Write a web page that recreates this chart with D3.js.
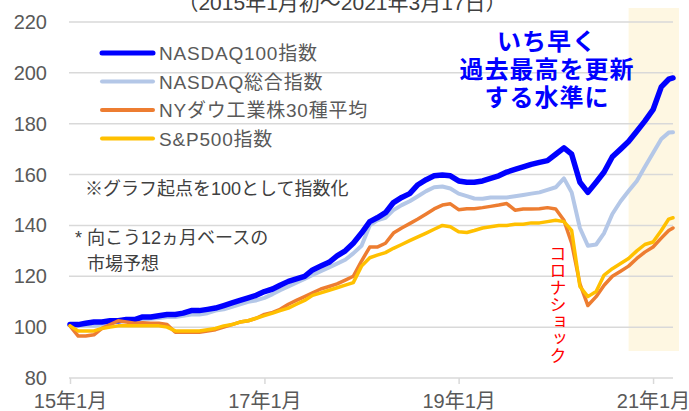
<!DOCTYPE html>
<html>
<head>
<meta charset="utf-8">
<script src="https://cdn.jsdelivr.net/npm/d3@7"></script>
<style>
  body { margin: 0; background: #fff; }
  svg text { font-family: "Liberation Sans", "Noto Sans CJK JP", sans-serif; }
</style>
</head>
<body>
<div id="chart"></div>
<script>
// chart area
var svgWidth = 689;
var svgHeight = 411;

// monthly points, first day of each month from 2015-01, last point is 2021-03-17
var startMonth = new Date(2015, 0, 1);
var lastMonth = new Date(2021, 2, 1);
var endDate = new Date(2021, 2, 17);
var shadeStart = new Date(2020, 9, 1);

var yTicks = [80, 100, 120, 140, 160, 180, 200, 220];
var xTicks = [new Date(2015, 0, 1), new Date(2017, 0, 1), new Date(2019, 0, 1), new Date(2021, 0, 1)];
var xTickLabels = ["15年1月", "17年1月", "19年1月", "21年1月"];

var seriesNames = ["NASDAQ100指数", "NASDAQ総合指数", "NYダウ工業株30種平均", "S&P500指数"];
var seriesColors = ["#0000ff", "#b4c7e7", "#ed7d31", "#ffc000"];

var nasdaq100 = [
  101, 101, 101.5, 102, 102, 102.5, 102.5, 103, 103, 104, 104, 104.5,
  105, 105, 105.5, 106.5, 106.5, 107, 107.5, 108.5, 109.5, 110.5, 111.5, 112.5,
  114, 115, 116.5, 118, 119, 120, 122.5, 124, 125.5, 128, 130, 133,
  137, 141.5, 143, 145, 149, 151, 152.5, 156, 158, 159.5, 159.8, 159.5,
  157.5, 157, 157, 157.5, 158.5, 159.5, 161, 162, 163, 164, 164.8, 165.5,
  168, 170.5, 168, 157, 153, 157, 161, 167, 170, 173, 177, 181,
  185.5, 194.5, 197.5, 198
];
var nasdaqComp = [
  101, 100.5, 100.8, 100.5, 101, 101.5, 102, 102.5, 102.5, 103, 103.3, 103.6,
  104, 104, 104.5, 105, 105, 105.5, 106.5, 107, 108, 109, 110, 110.5,
  111.5, 113, 114.5, 116, 117.5, 119, 120.5, 122, 123.5, 125, 126.5, 129,
  132, 140, 142, 143, 146, 148, 149.5, 151.5, 153.5, 155, 155.3, 154.5,
  152.5, 151.5, 150.6, 150.5, 151, 151, 151, 151.5, 152, 152.5, 153, 154,
  155, 158.5, 153, 139, 132, 132.5, 137, 144.5, 149.5, 153.5, 157.5, 163,
  168.5, 174, 176.5, 176.6
];
var dow30 = [
  100.5, 96.5, 96.5, 97, 99.5, 101, 102.5, 102, 101.5, 101.7, 101.5, 101.5,
  101, 98, 98, 98, 98, 98.5, 99, 100, 101, 102, 102.5, 103.5,
  105, 105.8, 107, 109, 110.5, 112, 113.5, 115, 116, 117, 118.5, 120,
  126, 131.5, 131.5, 133, 137, 139, 140.7, 142.5, 144.5, 146.5, 148, 148.5,
  146.2, 146.6, 146.6, 147, 147.5, 148, 148.6, 146, 146.5, 146.5, 146.6, 147,
  146.5, 142, 133, 117, 108.5, 112, 116.5, 120, 122, 124, 127, 129.5,
  131.5, 135, 138, 139
];
var sp500 = [
  100.5, 98.5, 98.5, 98.5, 99.5, 100, 100.5, 100.5, 100.5, 100.5, 100.5, 100.5,
  100, 98.5, 98.5, 98.5, 98.5, 99, 99.5, 100.5, 101, 102, 102.5, 103.5,
  104.5, 105.5, 106.5, 107.5, 109, 110.5, 112.5, 113.5, 114.5, 115.5, 116.5, 117.5,
  124, 127.3, 128.3, 129.3, 131, 132.5, 134, 135.5, 137, 138.5, 140, 139.5,
  137.5, 137.2, 138, 139, 139.5, 140, 140, 140.5, 140.5, 141, 141, 141.5,
  142, 141.5, 138, 116, 112, 114, 120.5, 123, 125, 127, 130, 132.5,
  133.5, 138, 142.5, 143
];

var allSeries = [nasdaq100, nasdaqComp, dow30, sp500];
var dates = d3.timeMonth.range(startMonth, d3.timeMonth.offset(lastMonth, 1)).concat([endDate]);

var svg = d3.select("#chart")
  .append("svg")
  .attr("width", svgWidth)
  .attr("height", svgHeight);

var x = d3.scaleTime()
  .domain([startMonth, endDate])
  .range([70, 673]);

var y = d3.scaleLinear()
  .domain([80, 220])
  .range([378, 22]);

// shaded recent period
svg.append("rect")
  .attr("x", x(shadeStart))
  .attr("y", 8)
  .attr("width", x(endDate) + 6 - x(shadeStart))
  .attr("height", 343)
  .attr("fill", "#fef7e2");

// gridlines
svg.append("g")
  .selectAll("line")
  .data(yTicks)
  .enter()
  .append("line")
  .attr("x1", 69)
  .attr("x2", 673)
  .attr("y1", d => y(d))
  .attr("y2", d => y(d))
  .attr("stroke", "#d9d9d9")
  .attr("stroke-width", 1.5);

// y axis labels
svg.append("g")
  .selectAll("text")
  .data(yTicks)
  .enter()
  .append("text")
  .attr("x", 47)
  .attr("y", d => y(d) + 7)
  .attr("text-anchor", "end")
  .attr("fill", "#595959")
  .style("font-size", "20px")
  .text(d => d);

// x axis ticks + labels
var xAxis = d3.axisBottom(x)
  .tickValues(xTicks)
  .tickSize(6)
  .tickFormat((d, i) => xTickLabels[i]);

var xg = svg.append("g")
  .attr("transform", "translate(0," + y(80) + ")")
  .call(xAxis);
xg.select(".domain").remove();
xg.selectAll("line").attr("stroke", "#d9d9d9").attr("stroke-width", 1.5);
xg.selectAll("text")
  .attr("fill", "#595959")
  .attr("y", 16)
  .style("font-size", "20px")
  .style("font-family", "\"Liberation Sans\", \"Noto Sans CJK JP\", sans-serif");

// lines
var line = d3.line()
  .x((d, i) => x(dates[i]))
  .y(d => y(d));

var drawOrder = [1, 0, 2, 3];
var widths = [5.5, 4, 3.5, 3.5];
drawOrder.forEach(function(k){
  svg.append("path")
    .datum(allSeries[k])
    .attr("fill", "none")
    .attr("stroke", seriesColors[k])
    .attr("stroke-width", widths[k])
    .attr("stroke-linejoin", "round")
    .attr("stroke-linecap", "round")
    .attr("d", line);
});

// title (partly cut off at the top, as in the source)
svg.append("text")
  .attr("x", 342)
  .attr("y", 10)
  .attr("text-anchor", "middle")
  .attr("fill", "#404040")
  .style("font-size", "21px")
  .text("（2015年1月初～2021年3月17日）");

// legend
var legend = svg.append("g")
  .selectAll("g")
  .data(seriesNames)
  .enter()
  .append("g")
  .attr("transform", (d, i) => "translate(0," + (53 + i * 28.5) + ")");

legend.append("line")
  .attr("x1", 102)
  .attr("x2", 153)
  .attr("stroke", (d, i) => seriesColors[i])
  .attr("stroke-width", (d, i) => i == 0 ? 5 : 4)
  .attr("stroke-linecap", "round");

legend.append("text")
  .attr("x", 159)
  .attr("y", 7)
  .attr("fill", "#595959")
  .style("font-size", "19px")
  .style("letter-spacing", "0.8px")
  .text(d => d);

// notes
svg.append("text")
  .attr("x", 85)
  .attr("y", 195)
  .attr("fill", "#404040")
  .style("font-size", "18px")
  .text("※グラフ起点を100として指数化");

svg.append("text")
  .attr("x", 75)
  .attr("y", 244)
  .attr("fill", "#404040")
  .style("font-size", "18px")
  .text("* 向こう12ヵ月ベースの");

svg.append("text")
  .attr("x", 87)
  .attr("y", 270)
  .attr("fill", "#404040")
  .style("font-size", "18px")
  .text("市場予想");

// blue callout
var callout = ["いち早く", "過去最高を更新", "する水準に"];
svg.append("g")
  .selectAll("text")
  .data(callout)
  .enter()
  .append("text")
  .attr("x", 547)
  .attr("y", (d, i) => 50 + i * 28)
  .attr("text-anchor", "middle")
  .attr("fill", "#0000ff")
  .style("font-size", "24px")
  .style("font-weight", "bold")
  .style("letter-spacing", "1px")
  .style("font-family", "\"Noto Sans CJK JP\", sans-serif")
  .text(d => d);

// covid label, vertical
svg.append("text")
  .attr("x", 558)
  .attr("y", 245)
  .attr("fill", "#ff0000")
  .style("writing-mode", "vertical-rl")
  .style("font-size", "17px")
  .style("font-family", "\"Noto Sans CJK JP\", sans-serif")
  .text("コロナショック");
</script>
</body>
</html>
